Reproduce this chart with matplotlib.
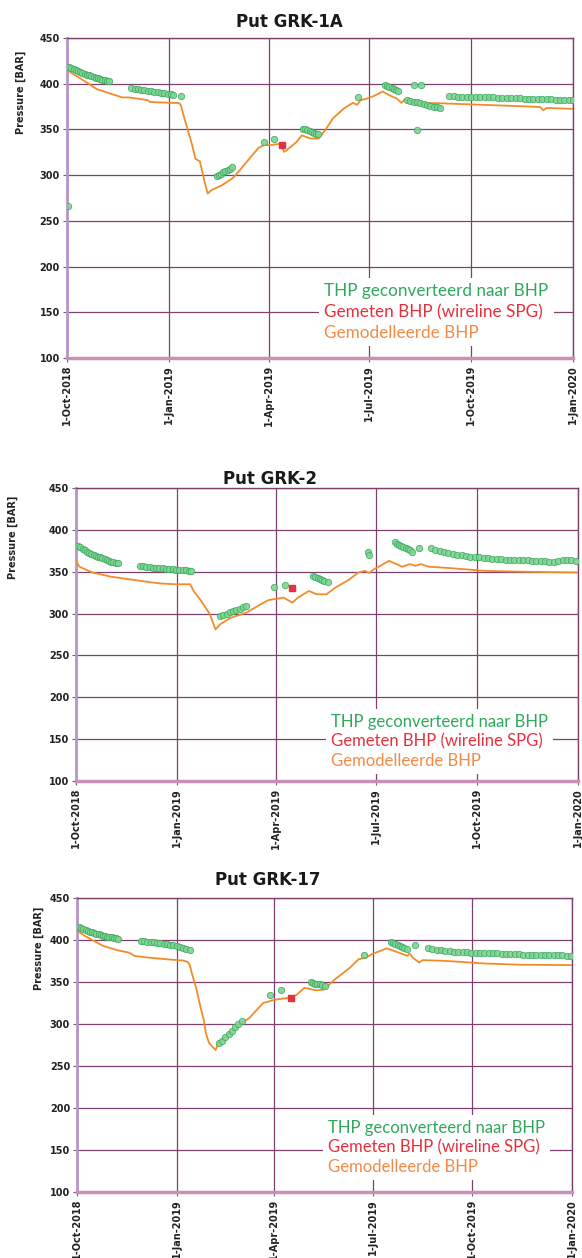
import numpy as np
import matplotlib
matplotlib.use("Agg")
import matplotlib.pyplot as plt
from matplotlib.lines import Line2D

START = np.datetime64("2018-10-01")

tick_dates = ["2018-10-01", "2019-01-01", "2019-04-01", "2019-07-01", "2019-10-01", "2020-01-01"]
tick_labels = ["1-Oct-2018", "1-Jan-2019", "1-Apr-2019", "1-Jul-2019", "1-Oct-2019", "1-Jan-2020"]
y_ticks = [100, 150, 200, 250, 300, 350, 400, 450]

legend_labels = ["THP geconverteerd naar BHP", "Gemeten BHP (wireline SPG)", "Gemodelleerde BHP"]
legend_colors = ["#2fa85c", "#e8303c", "#f38a45"]

# ---- Put GRK-1A (days since 1-Oct-2018) ----
grk1a_model_days = [0, 17, 27, 46, 50, 56, 73, 75, 96, 100, 102, 103, 106, 113, 116, 120, 125, 127, 131, 140,
                    150, 155, 166, 173, 178, 185, 193, 196, 198, 207, 212, 220, 227, 233, 240, 250, 258, 262, 265, 270,
                    277, 285, 290, 298, 302, 305, 310, 323, 340, 373, 407, 427, 430, 433, 457]
grk1a_model_p = [415, 402, 394, 386.5, 385, 385, 382, 380, 379, 379, 378, 376, 362, 333, 318, 315, 289, 280, 284, 289,
                 297, 304, 320, 330, 333, 333, 334.5, 325.5, 327, 336, 343.5, 340, 340, 349, 362, 373, 379, 377, 382, 383.5,
                 386.5, 391.5, 388, 383.5, 379, 383, 380, 379, 378.5, 377, 375.5, 374.5, 371, 373.5, 372.5]
grk1a_thp_days = [1, 2, 4, 6, 8, 10, 12, 14, 16, 18, 20, 22, 24, 26, 28, 30, 32, 34, 36, 38,
                  58, 61, 64, 67, 70, 73, 76, 79, 82, 85, 88, 91, 94, 96, 103,
                  135, 137, 139, 141, 143, 145, 147, 149, 178, 187,
                  213, 215, 217, 219, 221, 223, 225, 227, 263,
                  287, 289, 291, 293, 295, 297, 299, 313, 316, 320,
                  307, 310, 313, 316, 319, 322, 325, 328, 331, 334, 337,
                  345, 349, 353, 357, 361, 365, 369, 373, 377, 381, 385, 389, 393, 397, 401,
                  405, 409, 413, 417, 421, 425, 429, 433, 437, 441, 445, 449, 453, 457]
grk1a_thp_p = [266, 418, 417, 416, 415, 414, 413, 412, 411, 410, 409, 408, 407, 406.5, 406, 405, 404.5, 404, 403, 402.5,
               395, 394.5, 394, 393.5, 393, 392.5, 392, 391, 390.5, 390, 389.5, 389, 388.5, 388, 386.5,
               299, 300, 301.5, 303, 304, 305.5, 307, 308.5, 336, 339,
               351, 350, 349, 348, 347, 346.5, 345.5, 345, 385.5,
               399, 398, 396.5, 395, 394, 393, 392, 399, 349, 399,
               382, 381, 380, 379.5, 379, 378, 377, 376, 375, 374, 373,
               386.5, 386.5, 386, 386, 386, 385.5, 385.5, 385.5, 385, 385, 385, 384.5, 384.5, 384.5, 384,
               384, 384, 383.5, 383.5, 383.5, 383, 383, 383, 383, 382.5, 382.5, 382.5, 382, 382]
grk1a_spg_days = [194]
grk1a_spg_p = [333.5]

# ---- Put GRK-2 ----
grk2_model_days = [0, 3, 15, 32, 59, 76, 90, 104, 107, 114, 119, 121, 123, 127, 131, 141, 155, 168, 175, 189,
                   197, 202, 212, 219, 228, 236, 248, 257, 263, 267, 270, 277, 285, 290, 297, 304, 309, 314, 321, 338,
                   372, 406, 457]
grk2_model_p = [363, 356, 349, 344, 339, 336, 335, 335, 327, 315, 305, 301, 295, 281, 287, 295, 301, 311, 316, 319,
                313, 319, 327, 323, 323, 331, 340, 349, 351, 348.5, 352, 357, 363, 360, 356, 359, 357, 359, 356, 354.5,
                351, 350, 349]
grk2_thp_days = [2, 4, 6, 8, 10, 12, 14, 16, 18, 20, 22, 24, 26, 28, 30, 32, 34, 36, 38,
                 58, 61, 64, 67, 70, 73, 76, 79, 82, 85, 88, 91, 94, 97, 100, 103, 105,
                 131, 134, 137, 140, 143, 146, 149, 152, 155, 180, 190,
                 216, 218, 220, 222, 224, 226, 229, 266, 267,
                 290, 292, 294, 296, 298, 300, 302, 304, 306, 312,
                 323, 327, 331, 335, 339, 343, 347, 351, 355, 359, 363, 367, 371, 375, 379, 383, 387,
                 391, 395, 399, 403, 407, 411, 415, 419, 423, 427, 431, 435, 439, 443, 447, 451, 455]
grk2_thp_p = [381, 379, 377, 375.5, 374, 372.5, 371, 370, 369, 368, 367, 366, 365, 364, 363, 362, 361.5, 360.5, 360,
              357, 356.5, 356, 355.5, 355, 354.5, 354, 354, 353.5, 353, 353, 352.5, 352, 352, 351.5, 351, 350.5,
              297, 298.5, 300, 301.5, 303, 304.5, 306, 307.5, 309, 332, 334,
              345, 343.5, 342, 341, 340, 339, 338, 373, 370,
              385, 383.5, 382, 380.5, 379, 378, 377, 375.5, 374, 378,
              378, 376, 374.5, 373, 372, 371, 370, 369.5, 369, 368, 367.5, 367, 366.5, 366, 365.5, 365, 365,
              364.5, 364.5, 364, 364, 363.5, 363.5, 363, 363, 362.5, 362.5, 362, 362, 363, 364, 364, 363.5, 363]
grk2_spg_days = [197]
grk2_spg_p = [330]

# ---- Put GRK-17 ----
grk17_model_days = [0, 7, 24, 38, 48, 53, 66, 83, 98, 102, 104, 106, 110, 114, 117, 119, 122, 128, 131, 138,
                    148, 159, 169, 172, 183, 195, 200, 203, 210, 221, 228, 238, 252, 260, 267, 272, 286, 297, 305, 307,
                    310, 316, 319, 341, 376, 410, 457]
grk17_model_p = [411, 405, 393, 387.5, 385, 381, 379, 377, 375.5, 374, 370.5, 360.5, 343, 320, 305, 289, 277, 269, 279, 285,
                 297, 307, 321, 325, 329, 331, 333, 335, 343, 340, 341, 353, 367, 377, 379, 383, 390, 385, 381, 384,
                 379, 373, 376, 375, 372, 370.5, 370]
grk17_thp_days = [2, 4, 6, 8, 10, 12, 14, 16, 18, 20, 22, 24, 26, 28, 30, 32, 34, 36, 38,
                  59, 62, 65, 68, 71, 74, 77, 80, 83, 86, 89, 92, 95, 98, 101, 104,
                  131, 134, 137, 140, 143, 146, 149, 152, 178, 188,
                  216, 218, 220, 222, 224, 226, 229, 265,
                  290, 292, 294, 296, 298, 300, 302, 305, 312,
                  324, 328, 332, 336, 340, 344, 348, 352, 356, 360, 364, 368, 372, 376, 380, 384, 388,
                  392, 396, 400, 404, 408, 412, 416, 420, 424, 428, 432, 436, 440, 444, 448, 452, 456]
grk17_thp_p = [416, 414.5, 413, 412, 411, 410, 409, 408, 407, 406.5, 406, 405, 404.5, 404, 403.5, 403, 402.5, 402, 401.5,
               399, 398.5, 398, 397.5, 397, 396.5, 396, 395.5, 395, 394.5, 394, 393, 392, 391, 389.5, 388,
               277, 280, 284, 288, 292, 296, 300, 303, 334, 340,
               350, 349, 348, 347.5, 347, 346, 345, 382,
               398, 396.5, 395, 394, 393, 392, 391, 389.5, 393.5,
               391, 389.5, 388.5, 388, 387, 386.5, 386, 386, 385.5, 385.5, 385, 385, 384.5, 384.5, 384, 384, 384,
               383.5, 383.5, 383, 383, 383, 382.5, 382.5, 382.5, 382, 382, 382, 382, 381.5, 381.5, 381.5, 381, 381]
grk17_spg_days = [198]
grk17_spg_p = [331]

GRID = "#7d406f"
ORANGE = "#f28c28"
RED = "#e8303c"

plt.rcParams["font.family"] = ["DejaVu Sans"]
plt.rcParams["font.weight"] = "bold"


def to_dates(days):
    return START + np.array(days, dtype="timedelta64[D]")


def draw_panel(ax, title, title_x, title_pad, ylabel_x, legend_anchor, legend_size, legend_gap,
               model_days, model_p, thp_days, thp_p, spg_days, spg_p):
    ax.set_xlim(np.datetime64(tick_dates[0]), np.datetime64(tick_dates[-1]))
    ax.set_ylim(100, 450)
    ax.set_xticks([np.datetime64(d) for d in tick_dates])
    ax.set_xticklabels(tick_labels, rotation=90, fontsize=7, fontweight="bold", color="#222222")
    ax.set_yticks(y_ticks)
    ax.set_yticklabels([str(v) for v in y_ticks], fontsize=7, fontweight="bold", color="#222222")
    ax.tick_params(direction="out", length=3, width=0.8, color="#666666", pad=2)
    ax.grid(True, color=GRID, lw=0.9)
    ax.set_axisbelow(True)

    ax.plot(to_dates(model_days), model_p, color=ORANGE, lw=1.3, zorder=3)
    ax.plot(to_dates(thp_days), thp_p, ls="none", marker="o", ms=4.6,
            mfc="#7fd394", mec="#3aab5e", mew=0.6, alpha=0.9, zorder=4)
    ax.plot(to_dates(spg_days), spg_p, ls="none", marker="s", ms=4.5, color=RED, zorder=5)

    for side in ["top", "right"]:
        ax.spines[side].set_color(GRID)
        ax.spines[side].set_linewidth(1)
    ax.spines["left"].set_color("#b596c8")
    ax.spines["left"].set_linewidth(2)
    ax.spines["bottom"].set_color("#c98fb6")
    ax.spines["bottom"].set_linewidth(2.5)

    ax.set_title(title, x=title_x, pad=title_pad, fontsize=12, fontweight="heavy", color="#1a1a1a")
    ax.set_ylabel("Pressure [BAR]", fontsize=7, fontweight="bold", color="#222222")
    ax.yaxis.set_label_coords(ylabel_x, 0.83)

    handles = [Line2D([], [], lw=0) for _ in legend_labels]
    leg = ax.legend(handles, legend_labels, loc="lower right", bbox_to_anchor=legend_anchor,
                    handlelength=0, handletextpad=0, labelcolor=legend_colors,
                    frameon=True, facecolor="white", edgecolor="none", framealpha=1,
                    fancybox=False, borderpad=0.3, labelspacing=legend_gap,
                    prop={"family": "Lato", "size": legend_size, "weight": "normal"})
    leg.set_zorder(6)


fig = plt.figure(figsize=(5.82, 12.58), dpi=100)
ax1 = fig.add_axes([0.115, 0.7154, 0.870, 0.2544])
ax2 = fig.add_axes([0.1306, 0.3792, 0.8626, 0.2329])
ax3 = fig.add_axes([0.1323, 0.0525, 0.8505, 0.2337])

draw_panel(ax1, "Put GRK-1A", 0.44, 8, -0.08, (0.978, 0.01), 12.3, 0.3,
           grk1a_model_days, grk1a_model_p, grk1a_thp_days, grk1a_thp_p, grk1a_spg_days, grk1a_spg_p)
draw_panel(ax2, "Put GRK-2", 0.386, 3, -0.115, (0.966, -0.005), 12, 0.22,
           grk2_model_days, grk2_model_p, grk2_thp_days, grk2_thp_p, grk2_spg_days, grk2_spg_p)
draw_panel(ax3, "Put GRK-17", 0.386, 9, -0.066, (0.972, 0.012), 12, 0.22,
           grk17_model_days, grk17_model_p, grk17_thp_days, grk17_thp_p, grk17_spg_days, grk17_spg_p)

fig.savefig("out.png", dpi=100)
